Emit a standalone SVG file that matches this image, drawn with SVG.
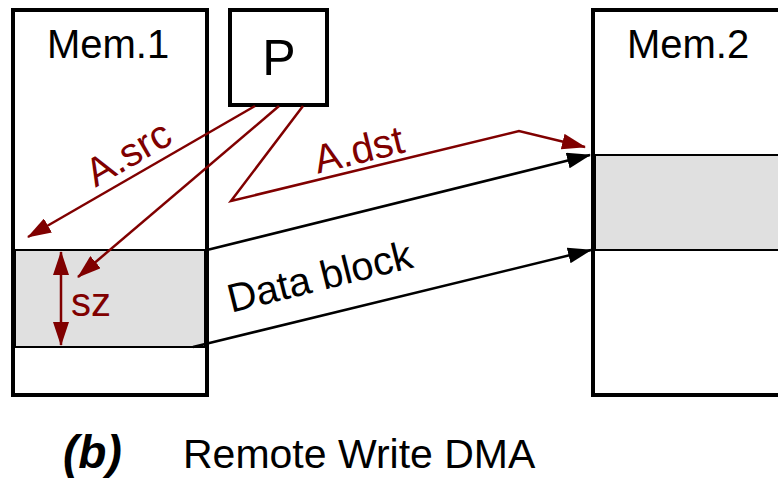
<svg xmlns="http://www.w3.org/2000/svg" width="778" height="478" viewBox="0 0 778 478">
  <defs>
    <marker id="arrRed" viewBox="0 0 24 16" refX="23" refY="8" markerWidth="24" markerHeight="16" markerUnits="userSpaceOnUse" orient="auto-start-reverse">
      <path d="M0,0 L24,8 L0,16 Z" fill="#800000"/>
    </marker>
    <marker id="arrBlack" viewBox="0 0 24 16" refX="23" refY="8" markerWidth="24" markerHeight="16" markerUnits="userSpaceOnUse" orient="auto">
      <path d="M0,0 L24,8 L0,16 Z" fill="#000"/>
    </marker>
  </defs>
  <style>
    .box { fill: #fff; stroke: #000; stroke-width: 4; }
    .band { fill: #e0e0e0; stroke: #000; stroke-width: 2; }
    .lbl { font-family: "Liberation Sans", Arial, sans-serif; fill: #000; }
    .red { font-family: "Liberation Sans", Arial, sans-serif; fill: #800000; }
    .rline { fill: none; stroke: #800000; stroke-width: 2.5; }
    .bline { fill: none; stroke: #000; stroke-width: 2.5; }
  </style>

  <rect width="778" height="478" fill="#fff"/>

  <!-- Local memory -->
  <g id="mem1">
    <rect class="box" x="13" y="10" width="194" height="385"/>
    <rect class="band" x="15" y="250" width="190" height="97"/>
    <rect x="13" y="10" width="194" height="385" fill="none" stroke="#000" stroke-width="4"/>
    <text class="lbl" x="108" y="58" font-size="40" text-anchor="middle">Mem.1</text>
  </g>

  <!-- Processor -->
  <g id="proc">
    <rect class="box" x="230" y="10" width="97" height="95"/>
    <text class="lbl" x="279" y="75" font-size="50" text-anchor="middle">P</text>
  </g>

  <!-- Remote memory -->
  <g id="mem2">
    <rect class="box" x="593" y="10" width="200" height="385"/>
    <rect class="band" x="595" y="155" width="200" height="95"/>
    <path d="M783,10 H593 V395 H783" fill="none" stroke="#000" stroke-width="4"/>
    <text class="lbl" x="688" y="58" font-size="40" text-anchor="middle">Mem.2</text>
  </g>

  <!-- Connectors -->
  <g id="connectors">
    <line class="rline" x1="255" y1="106" x2="28" y2="237" marker-end="url(#arrRed)"/>
    <line class="rline" x1="279" y1="106" x2="78" y2="277" marker-end="url(#arrRed)"/>
    <polyline class="rline" points="303,106 231,201 519,131 585,147" marker-end="url(#arrRed)"/>
    <line class="rline" x1="61" y1="252" x2="61" y2="345" marker-start="url(#arrRed)" marker-end="url(#arrRed)"/>
    <line class="bline" x1="207" y1="250" x2="590" y2="155" marker-end="url(#arrBlack)"/>
    <line class="bline" x1="193" y1="347" x2="591" y2="250" marker-end="url(#arrBlack)"/>
  </g>

  <!-- Labels -->
  <g id="labels">
    <text class="red" font-size="40" text-anchor="middle" transform="translate(135,165) rotate(-30)">A.src</text>
    <text class="red" font-size="40" text-anchor="middle" transform="translate(362,163) rotate(-13.7)">A.dst</text>
    <text class="red" x="71" y="316" font-size="40">sz</text>
    <text class="lbl" font-size="40" text-anchor="middle" transform="translate(323,290) rotate(-14)">Data block</text>
    <text class="lbl" x="63" y="468" font-size="46" font-weight="bold" font-style="italic">(b)</text>
    <text class="lbl" x="183" y="468" font-size="41">Remote Write DMA</text>
  </g>
</svg>
